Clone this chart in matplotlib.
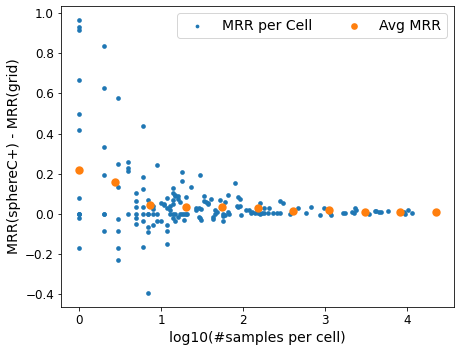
import matplotlib
matplotlib.use("Agg")
import matplotlib.pyplot as plt

# per-cell points: log10(#samples per cell), MRR difference
cell_x = [0, 0, 0, 0, 0, 0, 0, 0, 0, 0, 0, 0,
          0.301, 0.301, 0.301, 0.301, 0.301, 0.301, 0.301,
          0.477, 0.477, 0.477, 0.477, 0.477, 0.477, 0.477,
          0.602, 0.602, 0.602, 0.602,
          0.699, 0.699, 0.699, 0.699, 0.699, 0.699,
          0.778, 0.778, 0.778, 0.778, 0.778, 0.778, 0.778,
          0.845, 0.845, 0.845, 0.845, 0.845, 0.845,
          0.903, 0.903, 0.903, 0.903,
          0.954, 0.954, 0.954,
          1.0, 1.0,
          1.041, 1.041,
          1.079, 1.079, 1.079, 1.079, 1.079,
          1.114, 1.114, 1.114,
          1.146, 1.146, 1.146, 1.146, 1.146, 1.146,
          1.176, 1.176, 1.176, 1.176,
          1.204, 1.204, 1.204,
          1.230, 1.230,
          1.255, 1.255, 1.255,
          1.279, 1.279,
          1.301, 1.301,
          1.322,
          1.362,
          1.431, 1.431,
          1.462, 1.462,
          1.477, 1.477,
          1.491, 1.491,
          1.519, 1.519,
          1.544,
          1.568, 1.568,
          1.613,
          1.633, 1.633,
          1.663, 1.663,
          1.681,
          1.716,
          1.756, 1.756, 1.756,
          1.778, 1.778,
          1.82, 1.82,
          1.83,
          1.906,
          1.929,
          1.94, 1.94,
          1.968, 1.968,
          1.98,
          2.04, 2.07, 2.09, 2.11, 2.15, 2.18,
          2.2, 2.2, 2.23, 2.26, 2.26, 2.3, 2.32, 2.36, 2.41,
          2.45, 2.45, 2.49, 2.565, 2.67, 2.77, 2.83, 2.93, 2.99,
          3.06, 3.07, 3.21, 3.24, 3.33, 3.35, 3.36, 3.38,
          3.53, 3.6, 3.62, 3.66, 3.68, 3.76, 3.96, 3.97, 4.01, 4.06]
cell_y = [0.967, 0.933, 0.917, 0.668, 0.497, 0.418, 0.078, 0.0, 0.0, 0.0, -0.02, -0.17,
          0.837, 0.626, 0.332, 0.194, 0.0, 0.0, -0.085,
          0.576, 0.249, 0.133, -0.025, -0.086, -0.171, -0.231,
          0.261, 0.228, 0.214, 0.0,
          0.103, 0.063, 0.036, 0.0, -0.02, -0.05,
          0.438, 0.183, 0.123, 0.036, 0.0, -0.033, -0.164,
          0.07, 0.0, 0.0, -0.066, -0.09, -0.395,
          0.04, 0.025, -0.056, 0.0,
          0.244, 0.0, -0.035,
          0.053, -0.035,
          0.05, 0.046,
          0.078, 0.03, -0.056, -0.086, -0.151,
          0.04, 0.02, 0.0,
          0.128, 0.103, 0.07, 0.05, -0.02, 0.0,
          0.095, 0.088, -0.036, 0.0,
          0.088, 0.075, -0.017,
          0.0, 0.062,
          0.208, 0.163, 0.0,
          0.0, -0.03,
          0.083, 0.0,
          0.0,
          0.133,
          0.03, 0.02,
          0.03, -0.015,
          0.193, -0.02,
          0.025, -0.03,
          0.088, 0.065,
          0.06,
          0.055, 0.05,
          0.073,
          -0.017, -0.027,
          0.02, 0.0,
          0.01,
          0.068,
          -0.011, -0.036, 0.0,
          0.058, -0.005,
          0.093, 0.01,
          0.0,
          0.153,
          0.04,
          0.083, 0.035,
          0.073, 0.04,
          -0.006,
          0.018, 0.02, 0.005, 0.01, 0.005, 0.003,
          0.053, 0.0, 0.003, 0.028, 0.003, 0.003, 0.028, 0.003, 0.003,
          0.003, 0.063, 0.053, 0.0, 0.028, 0.003, 0.033, -0.006, 0.028,
          0.003, -0.006, 0.003, 0.003, 0.008, 0.003, 0.028, 0.018,
          0.0, 0.013, 0.013, 0.008, 0.008, 0.013, 0.008, -0.001, 0.018, 0.003]

# binned averages
avg_x = [0.0, 0.435, 0.87, 1.305, 1.74, 2.175, 2.61, 3.045, 3.48, 3.915, 4.35]
avg_y = [0.219, 0.158, 0.043, 0.033, 0.033, 0.028, 0.013, 0.018, 0.008, 0.008, 0.008]

DPI = 72
fig = plt.figure(figsize=(460 / DPI, 352 / DPI), dpi=DPI)
ax = fig.add_axes([61 / 460, 1 - 307 / 352, (454 - 61) / 460, (307 - 6) / 352])
ax.scatter(cell_x, cell_y, s=22, color="#1f77b4", linewidths=0,
           label="MRR per Cell", zorder=2)
ax.scatter(avg_x, avg_y, s=70, color="#ff7f0e", linewidths=0,
           label="Avg MRR", zorder=3)
ax.set_xlabel("log10(#samples per cell)", fontsize=14)
ax.set_ylabel("MRR(sphereC+) - MRR(grid)", fontsize=14)
ax.tick_params(labelsize=12)
ax.set_yticks([-0.4, -0.2, 0.0, 0.2, 0.4, 0.6, 0.8, 1.0])
ax.legend(loc="upper right", ncol=2, fontsize=14, markerscale=0.8)
fig.savefig("out.png", dpi=DPI)
